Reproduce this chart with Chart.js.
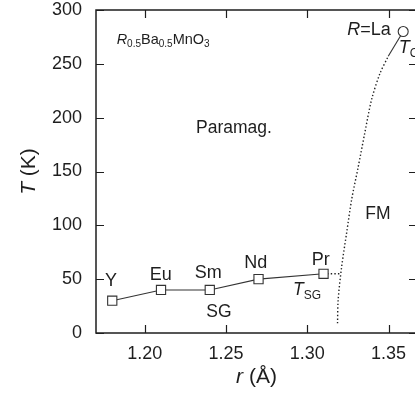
<!DOCTYPE html>
<html><head><meta charset="utf-8">
<script src="https://cdn.jsdelivr.net/npm/chart.js@4.4.1/dist/chart.umd.min.js"></script>
<style>
html,body{margin:0;padding:0;background:#fff;overflow:hidden;}
#wrap{width:430px;height:402px;position:relative;}
</style></head>
<body><div id="wrap"><canvas id="c"></canvas></div>
<script>
// ---- data ----
const sgElements = ['Y','Eu','Sm','Nd','Pr'];
const sgR = [1.18, 1.21, 1.24, 1.27, 1.31];
const sgT = [30, 40, 40, 50, 55];
const prLinkR = [1.31, 1.3205];
const prLinkT = [55, 55];
const tcR = [1.3186, 1.3190, 1.3211, 1.3242, 1.3273, 1.3313, 1.3354, 1.3396, 1.3447, 1.3498];
const tcT = [9, 31, 61, 93, 124, 154, 186, 217, 241, 257];
const laR = [1.3498, 1.359];
const laT = [257, 280];
const xTicks = [1.20, 1.25, 1.30, 1.35];
const yTicks = [0, 50, 100, 150, 200, 250, 300];

const FONT = '"Liberation Sans", Arial, Helvetica, sans-serif';
const INK = '#1e1e1e';

// annotation texts: runs, data position, alignment, size
const labels = [
  {runs:[{t:'R',it:1},{t:'0.5',sub:1},{t:'Ba'},{t:'0.5',sub:1},{t:'MnO'},{t:'3',sub:1}], r:1.1827, T:273, align:'left', size:14.5},
  {runs:[{t:'Paramag.'}], r:1.2549, T:192, align:'center', size:17.5},
  {runs:[{t:'FM'}], r:1.3434, T:112, align:'center', size:17.5},
  {runs:[{t:'SG'}], r:1.2456, T:20.5, align:'center', size:17.5},
  {runs:[{t:'T',it:1},{t:'SG',sub:1}], r:1.2912, T:41, align:'left', size:17.5},
  {runs:[{t:'Y'}], r:1.1792, T:49.8, align:'center', size:18},
  {runs:[{t:'Eu'}], r:1.2099, T:54.8, align:'center', size:18},
  {runs:[{t:'Sm'}], r:1.2391, T:57.2, align:'center', size:18},
  {runs:[{t:'Nd'}], r:1.2683, T:66.5, align:'center', size:18},
  {runs:[{t:'Pr'}], r:1.3083, T:69.4, align:'center', size:18},
  {runs:[{t:'R',it:1},{t:'=La'}], r:1.3514, T:283, align:'right', size:18},
  {runs:[{t:'T',it:1},{t:'C',sub:1}], r:1.3563, T:265.8, align:'left', size:18}
];

function runFont(run, size){
  const s = run.sub ? Math.round(size*0.68) : size;
  return (run.it ? 'italic ' : '') + s + 'px ' + FONT;
}
function drawRuns(ctx, runs, x, yMid, align, size){
  ctx.save();
  ctx.textBaseline = 'alphabetic';
  ctx.textAlign = 'left';
  let total = 0;
  const widths = runs.map(r => { ctx.font = runFont(r,size); const w = ctx.measureText(r.t).width; total += w; return w; });
  let x0 = align === 'center' ? x - total/2 : align === 'right' ? x - total : x;
  const base = yMid + size*0.36;
  runs.forEach((r,i) => {
    ctx.font = runFont(r,size);
    ctx.fillStyle = INK;
    ctx.fillText(r.t, x0, r.sub ? base + size*0.22 : base);
    x0 += widths[i];
  });
  ctx.restore();
}

const decor = {
  id:'decor',
  afterDraw(chart){
    const {ctx, chartArea:a, scales:{x,y}} = chart;
    ctx.save();
    ctx.strokeStyle = INK;
    ctx.lineWidth = 1.5;
    ctx.strokeRect(a.left, a.top, a.right - a.left, a.bottom - a.top);
    ctx.lineWidth = 1.2;
    const L = 8;
    ctx.beginPath();
    xTicks.forEach(v => {
      const px = Math.round(x.getPixelForValue(v)) + 0.5;
      ctx.moveTo(px, a.bottom); ctx.lineTo(px, a.bottom - L);
      ctx.moveTo(px, a.top); ctx.lineTo(px, a.top + L);
    });
    yTicks.forEach(v => {
      const py = Math.round(y.getPixelForValue(v)) + 0.5;
      ctx.moveTo(a.left, py); ctx.lineTo(a.left + L, py);
      ctx.moveTo(a.right, py); ctx.lineTo(a.right - L, py);
    });
    ctx.stroke();
    ctx.restore();
    labels.forEach(l => drawRuns(ctx, l.runs, x.getPixelForValue(l.r), y.getPixelForValue(l.T), l.align, l.size));
    // axis titles
    const cy = (a.top + a.bottom)/2;
    ctx.save();
    ctx.translate(27, cy);
    ctx.rotate(-Math.PI/2);
    drawRuns(ctx, [{t:'T',it:1},{t:' (K)'}], 0, 0, 'center', 21);
    ctx.restore();
    drawRuns(ctx, [{t:'r',it:1},{t:' (Å)'}], (a.left + a.right)/2, 375, 'center', 21);
  }
};

const pts = (xs, ys) => xs.map((v,i) => ({x:v, y:ys[i]}));

new Chart(document.getElementById('c'), {
  type:'line',
  data:{
    datasets:[
      {label:'T_SG', data:pts(sgR, sgT), borderColor:'#333', borderWidth:1.1, pointStyle:'rect', pointRadius:6.5, pointBackgroundColor:'#fff', pointBorderColor:'#333', pointBorderWidth:1.1, tension:0},
      {label:'link', data:pts(prLinkR, prLinkT), borderColor:'#222', borderWidth:1.4, borderDash:[1.4,2.2], pointRadius:0, tension:0},
      {label:'T_C', data:pts(tcR, tcT), borderColor:'#222', borderWidth:1.4, borderDash:[1.4,2.2], pointRadius:0, tension:0.3},
      {label:'La', data:pts(laR, laT), borderColor:'#333', borderWidth:1.1, pointStyle:'circle', pointRadius:[0,5], pointBackgroundColor:'#fff', pointBorderColor:'#333', pointBorderWidth:1.1, tension:0}
    ]
  },
  options:{
    responsive:true, maintainAspectRatio:false, animation:false,
    layout:{padding:{top:10, right:13, left:0, bottom:0}},
    plugins:{legend:{display:false}, tooltip:{enabled:false}},
    scales:{
      x:{type:'linear', min:1.17, max:1.3675,
        afterBuildTicks(s){ s.ticks = xTicks.map(v => ({value:v})); },
        afterFit(s){ s.height = 69; s.paddingLeft = 0; s.paddingRight = 0; },
        grid:{display:false}, border:{display:false},
        ticks:{color:INK, font:{family:FONT, size:18}, padding:2, maxRotation:0, callback:v => v.toFixed(2)}
      },
      y:{type:'linear', min:0, max:300,
        afterBuildTicks(s){ s.ticks = yTicks.map(v => ({value:v})); },
        afterFit(s){ s.width = 96; s.paddingTop = 0; s.paddingBottom = 0; },
        grid:{display:false}, border:{display:false},
        ticks:{color:INK, font:{family:FONT, size:18}, padding:6}
      }
    }
  },
  plugins:[decor]
});
</script></body></html>
